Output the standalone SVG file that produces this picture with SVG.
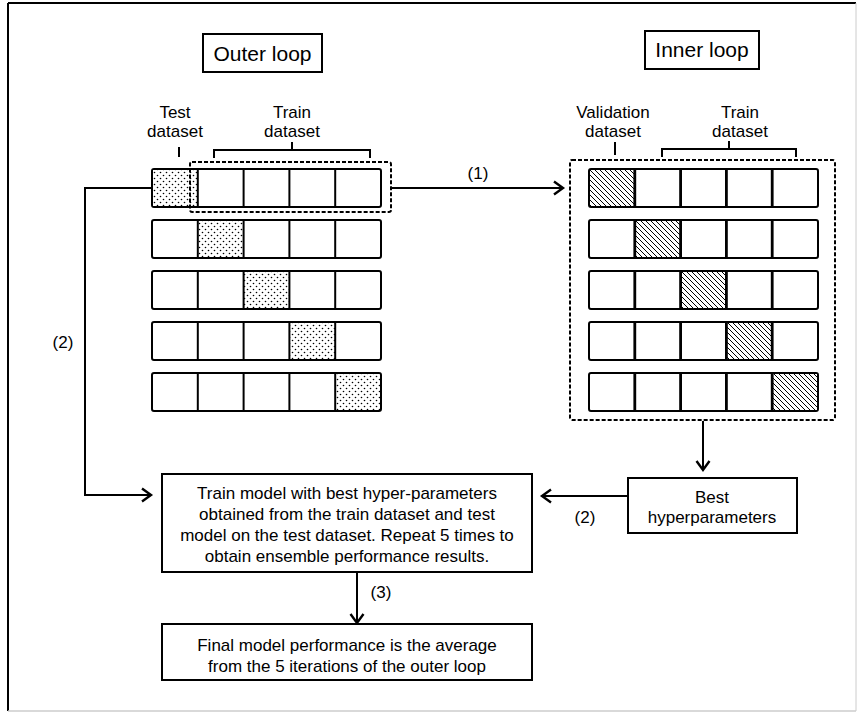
<svg xmlns="http://www.w3.org/2000/svg" width="859" height="713" viewBox="0 0 859 713">
<defs>
<style>
text{font-family:"Liberation Sans",Arial,sans-serif;fill:#000;text-anchor:middle}
.lab{font-size:17px}
.title{font-size:21px}
.box{fill:#fff;stroke:#000;stroke-width:2}
.row{fill:#fff;stroke:#000;stroke-width:2}
.div{stroke:#000;stroke-width:2}
.div2{stroke:#000;stroke-width:2.8}
.dash{fill:none;stroke:#000;stroke-width:2;stroke-dasharray:4 2}
.con{fill:none;stroke:#000;stroke-width:2}
</style>
<pattern id="dots" patternUnits="userSpaceOnUse" width="6" height="6">
<rect width="6" height="6" fill="#fff"/>
<circle cx="1.5" cy="1.5" r="0.8" fill="#000"/>
<circle cx="4.5" cy="4.5" r="0.8" fill="#000"/>
</pattern>
<pattern id="hatch" patternUnits="userSpaceOnUse" width="5" height="5">
<rect width="5" height="5" fill="#fff"/>
<path d="M-1,-1 L6,6 M-1,4 L1,6 M4,-1 L6,1" stroke="#000" stroke-width="1"/>
</pattern>
<marker id="arr" markerUnits="userSpaceOnUse" markerWidth="14" markerHeight="16" refX="11" refY="8" orient="auto">
<path d="M2,1.5 L11,8 L2,14.5" fill="none" stroke="#000" stroke-width="2.4"/>
</marker>
</defs>
<rect width="859" height="713" fill="#fff"/>
<g id="frame">
<line x1="8" y1="3" x2="856" y2="3" stroke="#000" stroke-width="2"/>
<line x1="8" y1="3" x2="8" y2="711" stroke="#000" stroke-width="2"/>
<line x1="856" y1="3" x2="856" y2="711" stroke="#ccc" stroke-width="1"/>
<line x1="8" y1="711" x2="856" y2="711" stroke="#ccc" stroke-width="1.5"/>
</g>
<g id="outer-title">
<rect class="box" x="203" y="34" width="119" height="38"/>
<text class="title" x="262.5" y="61">Outer loop</text>
</g>
<g id="inner-title">
<rect class="box" x="645" y="31" width="114" height="38"/>
<text class="title" x="702" y="57">Inner loop</text>
</g>
<g id="outer-labels">
<text class="lab" x="175" y="118">Test</text>
<text class="lab" x="175" y="137">dataset</text>
<line x1="179" y1="147" x2="179" y2="157" stroke="#000" stroke-width="2"/>
<text class="lab" x="292" y="118">Train</text>
<text class="lab" x="292" y="137">dataset</text>
<path d="M214,158 V150 H370 V158 M292,150 V142" fill="none" stroke="#000" stroke-width="2"/>
</g>
<g id="inner-labels">
<text class="lab" x="613" y="118">Validation</text>
<text class="lab" x="613" y="137">dataset</text>
<line x1="615" y1="142" x2="615" y2="155" stroke="#000" stroke-width="2"/>
<text class="lab" x="740" y="118">Train</text>
<text class="lab" x="740" y="137">dataset</text>
<path d="M662,157 V149 H796 V157 M729,149 V141" fill="none" stroke="#000" stroke-width="2"/>
</g>
<g id="outer-folds">
<rect class="row" x="152" y="169" width="229" height="38" rx="2"/>
<rect x="153" y="170" width="44.8" height="36" fill="url(#dots)"/>
<line class="div" x1="197.8" y1="169" x2="197.8" y2="207"/>
<line class="div" x1="243.6" y1="169" x2="243.6" y2="207"/>
<line class="div" x1="289.4" y1="169" x2="289.4" y2="207"/>
<line class="div" x1="335.2" y1="169" x2="335.2" y2="207"/>

<rect class="row" x="152" y="220" width="229" height="38" rx="2"/>
<rect x="197.8" y="221" width="45.8" height="36" fill="url(#dots)"/>
<line class="div" x1="197.8" y1="220" x2="197.8" y2="258"/>
<line class="div" x1="243.6" y1="220" x2="243.6" y2="258"/>
<line class="div" x1="289.4" y1="220" x2="289.4" y2="258"/>
<line class="div" x1="335.2" y1="220" x2="335.2" y2="258"/>

<rect class="row" x="152" y="271" width="229" height="38" rx="2"/>
<rect x="243.6" y="272" width="45.8" height="36" fill="url(#dots)"/>
<line class="div" x1="197.8" y1="271" x2="197.8" y2="309"/>
<line class="div" x1="243.6" y1="271" x2="243.6" y2="309"/>
<line class="div" x1="289.4" y1="271" x2="289.4" y2="309"/>
<line class="div" x1="335.2" y1="271" x2="335.2" y2="309"/>

<rect class="row" x="152" y="322" width="229" height="38" rx="2"/>
<rect x="289.4" y="323" width="45.8" height="36" fill="url(#dots)"/>
<line class="div" x1="197.8" y1="322" x2="197.8" y2="360"/>
<line class="div" x1="243.6" y1="322" x2="243.6" y2="360"/>
<line class="div" x1="289.4" y1="322" x2="289.4" y2="360"/>
<line class="div" x1="335.2" y1="322" x2="335.2" y2="360"/>

<rect class="row" x="152" y="373" width="229" height="38" rx="2"/>
<rect x="335.2" y="374" width="44.8" height="36" fill="url(#dots)"/>
<line class="div" x1="197.8" y1="373" x2="197.8" y2="411"/>
<line class="div" x1="243.6" y1="373" x2="243.6" y2="411"/>
<line class="div" x1="289.4" y1="373" x2="289.4" y2="411"/>
<line class="div" x1="335.2" y1="373" x2="335.2" y2="411"/>
<rect class="dash" x="190" y="162" width="201" height="50" rx="2"/>
</g>
<g id="inner-folds">
<rect class="dash" x="570" y="160" width="265" height="260" rx="2"/>
<rect class="row" x="589" y="169" width="229" height="38" rx="2"/>
<rect x="590" y="170" width="44.8" height="36" fill="url(#hatch)"/>
<line class="div2" x1="634.8" y1="169" x2="634.8" y2="207"/>
<line class="div2" x1="680.6" y1="169" x2="680.6" y2="207"/>
<line class="div2" x1="726.4" y1="169" x2="726.4" y2="207"/>
<line class="div2" x1="772.2" y1="169" x2="772.2" y2="207"/>

<rect class="row" x="589" y="220" width="229" height="38" rx="2"/>
<rect x="634.8" y="221" width="45.8" height="36" fill="url(#hatch)"/>
<line class="div2" x1="634.8" y1="220" x2="634.8" y2="258"/>
<line class="div2" x1="680.6" y1="220" x2="680.6" y2="258"/>
<line class="div2" x1="726.4" y1="220" x2="726.4" y2="258"/>
<line class="div2" x1="772.2" y1="220" x2="772.2" y2="258"/>

<rect class="row" x="589" y="271" width="229" height="38" rx="2"/>
<rect x="680.6" y="272" width="45.8" height="36" fill="url(#hatch)"/>
<line class="div2" x1="634.8" y1="271" x2="634.8" y2="309"/>
<line class="div2" x1="680.6" y1="271" x2="680.6" y2="309"/>
<line class="div2" x1="726.4" y1="271" x2="726.4" y2="309"/>
<line class="div2" x1="772.2" y1="271" x2="772.2" y2="309"/>

<rect class="row" x="589" y="322" width="229" height="38" rx="2"/>
<rect x="726.4" y="323" width="45.8" height="36" fill="url(#hatch)"/>
<line class="div2" x1="634.8" y1="322" x2="634.8" y2="360"/>
<line class="div2" x1="680.6" y1="322" x2="680.6" y2="360"/>
<line class="div2" x1="726.4" y1="322" x2="726.4" y2="360"/>
<line class="div2" x1="772.2" y1="322" x2="772.2" y2="360"/>

<rect class="row" x="589" y="373" width="229" height="38" rx="2"/>
<rect x="772.2" y="374" width="44.8" height="36" fill="url(#hatch)"/>
<line class="div2" x1="634.8" y1="373" x2="634.8" y2="411"/>
<line class="div2" x1="680.6" y1="373" x2="680.6" y2="411"/>
<line class="div2" x1="726.4" y1="373" x2="726.4" y2="411"/>
<line class="div2" x1="772.2" y1="373" x2="772.2" y2="411"/>
</g>
<g id="train-box">
<rect class="box" x="162" y="474" width="370" height="98"/>
<text class="lab" x="347" y="499">Train model with best hyper-parameters</text>
<text class="lab" x="347" y="520">obtained from the train dataset and test</text>
<text class="lab" x="347" y="541">model on the test dataset. Repeat 5 times to</text>
<text class="lab" x="347" y="562">obtain ensemble performance results.</text>
</g>
<g id="final-box">
<rect class="box" x="162" y="624" width="370" height="56"/>
<text class="lab" x="347" y="651">Final model performance is the average</text>
<text class="lab" x="347" y="672">from the 5 iterations of the outer loop</text>
</g>
<g id="best-box">
<rect class="box" x="628" y="478" width="169" height="55"/>
<text class="lab" x="712" y="503">Best</text>
<text class="lab" x="712" y="523">hyperparameters</text>
</g>
<g id="connectors">
<line class="con" x1="391" y1="188" x2="563" y2="188" marker-end="url(#arr)"/>
<text class="lab" x="478" y="179">(1)</text>
<polyline class="con" points="152,188 85,188 85,495 151,495" marker-end="url(#arr)"/>
<text class="lab" x="63" y="348">(2)</text>
<line class="con" x1="703" y1="421" x2="703" y2="470" marker-end="url(#arr)"/>
<line class="con" x1="628" y1="496" x2="542" y2="496" marker-end="url(#arr)"/>
<text class="lab" x="585" y="523">(2)</text>
<line class="con" x1="357" y1="572" x2="357" y2="623" marker-end="url(#arr)"/>
<text class="lab" x="381" y="598">(3)</text>
</g>
</svg>
